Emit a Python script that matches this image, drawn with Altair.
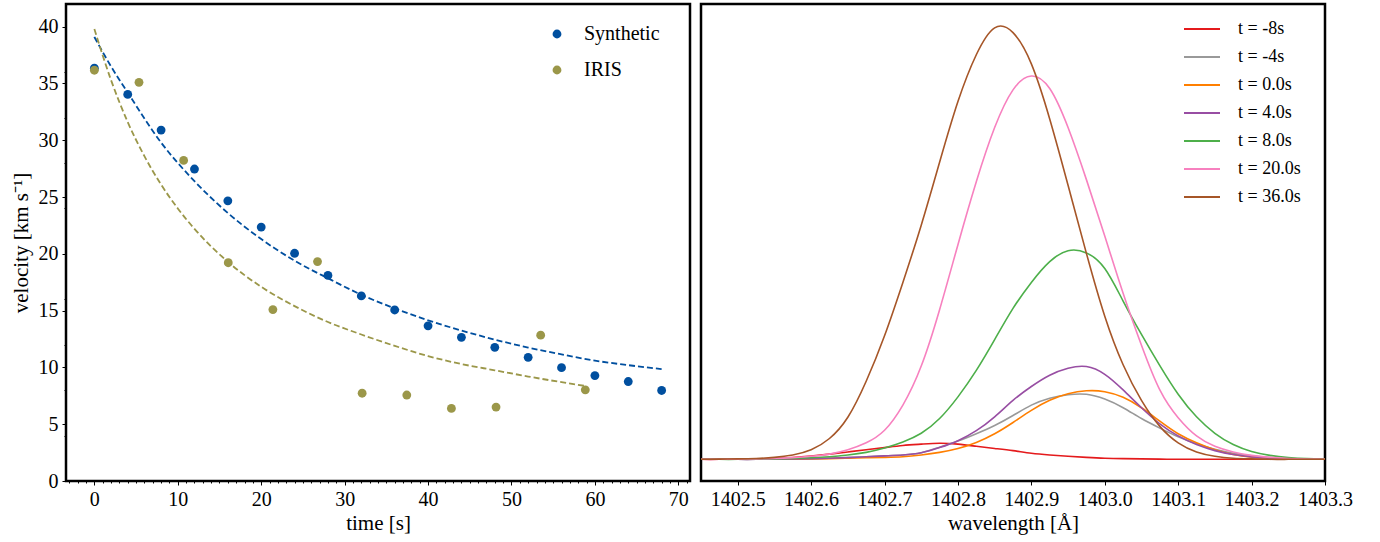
import altair as alt
import pandas as pd

# ---------------- left panel data ----------------
syn_t = [0, 4, 8, 12, 16, 20, 24, 28, 32, 36, 40, 44, 48, 52, 56, 60, 64, 68]
syn_v = [36.35, 34.04, 30.9, 27.47, 24.67, 22.36, 20.05, 18.1, 16.3, 15.06,
         13.66, 12.65, 11.77, 10.89, 9.98, 9.28, 8.76, 7.97]
iris_t = [0, 5.35, 10.7, 16.05, 21.4, 26.75, 32.1, 37.45, 42.8, 48.15, 53.5, 58.85]
iris_v = [36.17, 35.1, 28.23, 19.22, 15.09, 19.32, 7.73, 7.57, 6.39, 6.51, 12.84, 8.03]
syn_fit_t = [0, 2, 4, 8, 12, 16, 20, 24, 28, 32, 36, 40, 44, 48, 52, 56, 60, 64, 68]
syn_fit_v = [39.1, 36.5, 34.2, 29.8, 26.4, 23.6, 21.3, 19.4, 17.85, 16.4, 15.2,
             14.15, 13.25, 12.45, 11.75, 11.15, 10.6, 10.2, 9.85]
iris_fit_t = [0, 2, 4, 6, 8, 10, 12, 16, 20, 24, 28, 32, 36, 40, 44, 48, 52, 56, 59]
iris_fit_v = [39.8, 35.3, 31.6, 28.6, 26.1, 24.0, 22.2, 19.3, 17.1, 15.4, 14.0,
              12.9, 11.9, 11.0, 10.3, 9.75, 9.2, 8.7, 8.35]
left_x_ticks = [0, 10, 20, 30, 40, 50, 60, 70]
left_x_minor = [-3, -2, -1, 0, 1, 2, 3, 4, 5, 6, 7, 8, 9, 10, 11, 12, 13, 14, 15, 16, 17, 18,
                19, 20, 21, 22, 23, 24, 25, 26, 27, 28, 29, 30, 31, 32, 33, 34, 35, 36,
                37, 38, 39, 40, 41, 42, 43, 44, 45, 46, 47, 48, 49, 50, 51, 52, 53, 54,
                55, 56, 57, 58, 59, 60, 61, 62, 63, 64, 65, 66, 67, 68, 69, 70, 71]
left_y_ticks = [0, 5, 10, 15, 20, 25, 30, 35, 40]
left_y_minor = [0, 4, 8, 12, 16, 20, 24, 28, 32, 36, 40]

# ---------------- right panel data ----------------
wl = [1402.450, 1402.475, 1402.500, 1402.525, 1402.550, 1402.575, 1402.600, 1402.625,
      1402.650, 1402.675, 1402.700, 1402.725, 1402.750, 1402.775, 1402.800, 1402.825,
      1402.850, 1402.875, 1402.900, 1402.925, 1402.950, 1402.975, 1403.000, 1403.025,
      1403.050, 1403.075, 1403.100, 1403.125, 1403.150, 1403.175, 1403.200, 1403.225,
      1403.250, 1403.275, 1403.300]
prof_m8 = [0, 0, 0.05, 0.1, 0.2, 0.4, 0.75, 1.2, 1.7, 2.2, 2.7, 3.2, 3.5, 3.7, 3.5, 3.0,
           2.5, 2.0, 1.4, 1.0, 0.7, 0.45, 0.25, 0.15, 0.1, 0.05, 0, 0, 0, 0, 0, 0, 0, 0, 0]
prof_m4 = [0, 0, 0, 0, 0.05, 0.1, 0.15, 0.25, 0.4, 0.6, 0.8, 1.0, 1.5, 2.8, 4.2, 5.9,
           7.8, 10.1, 12.5, 14.1, 14.9, 15.0, 13.9, 11.9, 9.4, 7.2, 5.2, 3.6, 2.3, 1.4,
           0.8, 0.4, 0.2, 0.1, 0.05]
prof_0 = [0, 0, 0, 0, 0, 0.05, 0.1, 0.15, 0.25, 0.35, 0.45, 0.6, 1.0, 1.6, 2.5, 3.9,
          5.9, 8.5, 11.3, 13.6, 15.1, 15.8, 15.6, 14.3, 11.9, 8.8, 5.9, 3.8, 2.2, 1.1,
          0.5, 0.2, 0.1, 0.05, 0]
prof_4 = [0, 0, 0, 0, 0.05, 0.1, 0.15, 0.25, 0.4, 0.6, 0.8, 1.0, 1.5, 2.7, 4.3, 6.6,
          9.8, 13.6, 16.8, 19.4, 21.0, 21.4, 19.6, 16.0, 11.9, 8.2, 5.4, 3.4, 2.0, 1.1,
          0.55, 0.25, 0.1, 0.05, 0]
prof_8 = [0, 0, 0, 0.05, 0.1, 0.2, 0.35, 0.6, 1.0, 1.6, 2.6, 4.0, 6.0, 9.4, 14.4, 20.5,
          27.6, 34.8, 40.8, 45.6, 48.1, 47.6, 44.0, 36.5, 28.8, 21.6, 15.0, 9.8, 6.0,
          3.4, 1.8, 0.9, 0.4, 0.15, 0.05]
prof_20 = [0, 0, 0.05, 0.1, 0.2, 0.4, 0.7, 1.2, 2.2, 3.8, 6.7, 12.5, 21.5, 34.5, 49.5,
           64.0, 76.5, 85.2, 88.4, 85.5, 76.5, 64.5, 51.5, 38.3, 26.3, 16.0, 9.6, 5.4,
           3.0, 1.7, 0.9, 0.45, 0.2, 0.08, 0.03]
prof_36 = [0, 0.05, 0.1, 0.2, 0.45, 1.0, 2.2, 4.8, 9.7, 18.0, 28.5, 40.8, 54.0, 68.5,
           82.5, 93.3, 99.5, 98.4, 91.2, 78.5, 63.2, 47.5, 33.0, 21.8, 13.6, 7.6, 3.8,
           1.7, 0.7, 0.25, 0.1, 0, 0, 0, 0]
series_names = ["t = -8s", "t = -4s", "t = 0.0s", "t = 4.0s", "t = 8.0s", "t = 20.0s", "t = 36.0s"]
series_colors = ["#e41a1c", "#999999", "#ff7f00", "#984ea3", "#4daf4a", "#f781bf", "#a65628"]
profiles = [prof_m8, prof_m4, prof_0, prof_4, prof_8, prof_20, prof_36]
right_x_ticks = [1402.5, 1402.6, 1402.7, 1402.8, 1402.9, 1403.0, 1403.1, 1403.2, 1403.3]

FONT = "Liberation Serif"
BLUE = "#004f9f"
OLIVE = "#9b9749"

# ---------------- left panel ----------------
pts = pd.DataFrame({
    "t": syn_t + iris_t,
    "v": syn_v + iris_v,
    "series": ["Synthetic"] * len(syn_t) + ["IRIS"] * len(iris_t),
})
fit_syn = pd.DataFrame({"t": syn_fit_t, "v": syn_fit_v})
fit_iris = pd.DataFrame({"t": iris_fit_t, "v": iris_fit_v})

xs_l = alt.Scale(domain=[-3.4, 71.4], nice=False, zero=False)
ys_l = alt.Scale(domain=[0, 42], nice=False, zero=False)

x_major_l = alt.X("t:Q", scale=xs_l, title="time [s]",
                  axis=alt.Axis(orient="bottom", values=left_x_ticks, tickSize=4, labelPadding=4,
                                titlePadding=3, format="d", labelOverlap=False,
                                labelFlush=False))
y_major_l = alt.Y("v:Q", scale=ys_l, title="velocity [km s⁻¹]",
                  axis=alt.Axis(orient="left", values=left_y_ticks, tickSize=4, labelPadding=4,
                                titlePadding=7, format="d", labelOverlap=False,
                                labelFlush=False))
x_none_l = alt.X("t:Q", scale=xs_l, axis=None)
y_none_l = alt.Y("v:Q", scale=ys_l, axis=None)

fit_layer_syn = alt.Chart(fit_syn).mark_line(
    color=BLUE, strokeDash=[6, 3], strokeWidth=1.8, interpolate="monotone"
).encode(x=x_major_l, y=y_major_l)
fit_layer_iris = alt.Chart(fit_iris).mark_line(
    color=OLIVE, strokeDash=[6, 3], strokeWidth=1.8, interpolate="monotone"
).encode(x=x_none_l, y=y_none_l)

points = alt.Chart(pts).mark_circle(size=78, opacity=1).encode(
    x=x_none_l,
    y=y_none_l,
    color=alt.Color("series:N",
                    scale=alt.Scale(domain=["Synthetic", "IRIS"], range=[BLUE, OLIVE]),
                    legend=alt.Legend(title=None, orient="none", legendX=481, legendY=20,
                                      labelFontSize=20, labelFont=FONT, symbolSize=78,
                                      symbolType="circle", rowPadding=16, labelOffset=17,
                                      padding=0, labelColor="black")),
)

minor_l = alt.Chart(pts).mark_circle(opacity=0).encode(
    x=alt.X("t:Q", scale=xs_l, title=None,
            axis=alt.Axis(orient="bottom", values=left_x_minor, labels=False, tickSize=2,
                          title=None)),
    y=alt.Y("v:Q", scale=ys_l, title=None,
            axis=alt.Axis(orient="left", values=left_y_minor, labels=False, tickSize=2,
                          title=None)),
)

left = alt.layer(fit_layer_syn, fit_layer_iris, points, minor_l).resolve_axis(
    x="independent", y="independent"
).properties(width=624, height=477)

# ---------------- right panel ----------------
rows = []
for name, prof in zip(series_names, profiles):
    for w, val in zip(wl, prof):
        rows.append({"wl": w, "I": val, "series": name})
prof_df = pd.DataFrame(rows)

xs_r = alt.Scale(domain=[1402.45, 1403.3], nice=False, zero=False)
ys_r = alt.Scale(domain=[-5, 105], nice=False, zero=False)
color_r = alt.Scale(domain=series_names, range=series_colors)
legend_r = alt.Legend(title=None, orient="none", legendX=482, legendY=6,
                      labelFontSize=18, labelFont=FONT, symbolType="stroke",
                      symbolSize=1296, symbolStrokeWidth=2, rowPadding=-8,
                      labelOffset=17, padding=0, labelColor="black")

layers_r = []
for i, name in enumerate(series_names):
    sub = prof_df[prof_df["series"] == name]
    if i == 0:
        xenc = alt.X("wl:Q", scale=xs_r, title="wavelength [Å]",
                     axis=alt.Axis(values=right_x_ticks, format=".1f", tickSize=4,
                                   labelPadding=4, titlePadding=3, labelOverlap=False,
                                   labelFlush=False))
    else:
        xenc = alt.X("wl:Q", scale=xs_r)
    layers_r.append(
        alt.Chart(sub).mark_line(strokeWidth=1.6, interpolate="natural").encode(
            x=xenc,
            y=alt.Y("I:Q", scale=ys_r, axis=None),
            color=alt.Color("series:N", scale=color_r, legend=legend_r),
        )
    )

right = alt.layer(*layers_r).properties(width=624, height=477)

chart = alt.hconcat(left, right, spacing=4).resolve_scale(
    color="independent"
).properties(
    padding={"left": 8, "top": 2, "right": 0, "bottom": 0},
    background="white",
).configure_view(
    stroke="black", strokeWidth=2.5
).configure_axis(
    labelFont=FONT, titleFont=FONT, labelFontSize=20, titleFontSize=21,
    labelColor="black", titleColor="black", tickColor="black", tickWidth=1,
    domain=False, grid=False, titleFontWeight="normal",
).configure_legend(
    labelFont=FONT,
)

chart.save("out.html", embed_options={"renderer": "svg", "actions": False})
